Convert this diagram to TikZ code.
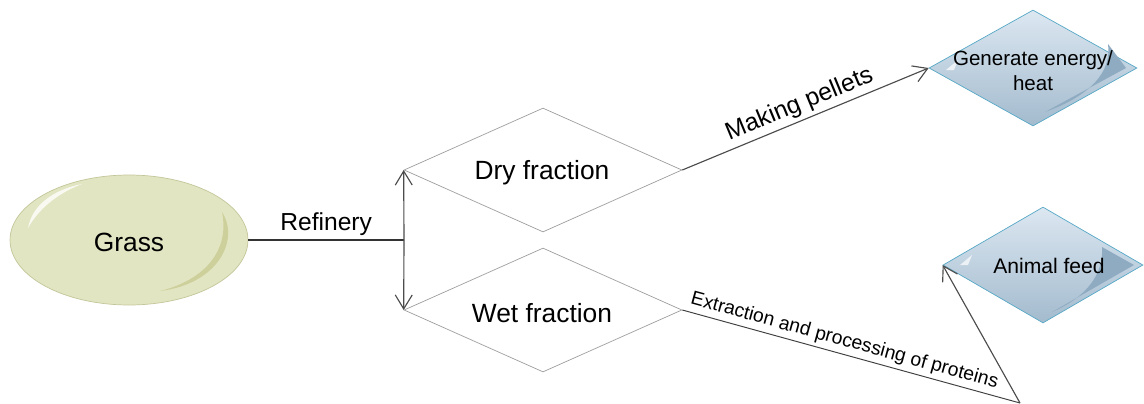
\documentclass[tikz,border=0pt]{standalone}
\usepackage{fontspec}
\setmainfont{Liberation Sans}
\usetikzlibrary{arrows.meta, shapes.geometric}

\definecolor{grassfill}{HTML}{E2E5C2}
\definecolor{grassline}{HTML}{C3C699}
\definecolor{grasssheen}{HTML}{CDD09A}
\definecolor{prodtop}{HTML}{DCE7F1}
\definecolor{prodbot}{HTML}{A3BBCE}
\definecolor{prodline}{HTML}{56A8C6}
\definecolor{prodsheen}{HTML}{8FABC1}

\begin{document}
\begin{tikzpicture}[
            x=0.02cm, y=-0.02cm,
            grass/.style={ellipse, draw=grassline, fill=grassfill, minimum width=4.76cm, minimum height=2.6cm, font=\fontsize{15}{18}\selectfont},
            fraction/.style={diamond, draw=gray!75, fill=white, aspect=2.24, minimum width=5.56cm, minimum height=2.48cm, inner sep=0pt, font=\fontsize{15}{18}\selectfont},
            product/.style={diamond, draw=prodline, top color=prodtop, bottom color=prodbot, inner sep=0pt, minimum height=2.32cm},
            arrow/.style={-{Straight Barb[length=2.8mm, width=3.4mm]}, gray!60!black, line width=0.65pt},
            link/.style={black!80, line width=0.6pt},
            tag/.style={text=black, inner sep=2pt}
        ]
        \useasboundingbox (0,0) rectangle (1144,403);

        % Source
        \node (grass) at (129,240) [grass] {};
        \fill [grasssheen] (222,212) .. controls (240,240) and (218,284) .. (160,291)
            .. controls (205,280) and (230,250) .. (222,212);
        \fill [white, opacity=0.8] (28,228) .. controls (32,206) and (52,190) .. (82,184)
            .. controls (56,194) and (38,210) .. (28,228);
        \node (grasstext) at (129,242) [font=\fontsize{15}{18}\selectfont] {Grass};

        % Fractions
        \coordinate (split) at (404,240);
        \node (dry) at (543,170) [fraction] {};
        \node (drytext) at (542,173) [font=\fontsize{15}{18}\selectfont] {Dry fraction};
        \node (wet) at (543,310) [fraction] {};
        \node (wettext) at (542,313) [font=\fontsize{15}{18}\selectfont] {Wet fraction};

        % Products
        \node (energy) at (1033,68) [product, aspect=1.79, minimum width=4.16cm] {};
        \fill [prodsheen] (1108,44) .. controls (1112,72) and (1090,96) .. (1045,112) -- (1126,68) -- cycle;
        \fill [white, opacity=0.7] (946,70) -- (958,60) -- (954,70) -- cycle;
        \node (energytext) at (1033,71) [align=center, font=\fontsize{11.7}{14.2}\selectfont] {Generate energy/\\heat};

        \node (feed) at (1043,265) [product, aspect=1.72, minimum width=4.0cm] {};
        \fill [prodsheen] (1102,247) .. controls (1104,275) and (1085,298) .. (1052,312) -- (1134,265) -- cycle;
        \fill [white, opacity=0.7] (960,265) -- (972,255) -- (968,265) -- cycle;
        \node (feedtext) at (1049,266) [font=\fontsize{12}{14}\selectfont] {Animal feed};

        % Connectors
        \draw [link] (grass.east) -- node [tag, above, font=\fontsize{14}{16}\selectfont] {Refinery} (split);
        \draw [arrow] (split) -- (dry.west);
        \draw [arrow] (split) -- (wet.west);
        \draw [arrow] (dry.east) -- node [tag, above, sloped, pos=0.5, font=\fontsize{14}{16}\selectfont] {Making pellets} (energy.west);

        \coordinate (bend) at (1020,403);
        \draw [link, gray!50!black, line width=0.55pt] (wet.east) -- node [tag, above, sloped, pos=0.47, font=\fontsize{11}{13}\selectfont] {Extraction and processing of proteins} (bend);
        \draw [arrow] (bend) -- (feed.west);
        \end{tikzpicture}
\end{document}
